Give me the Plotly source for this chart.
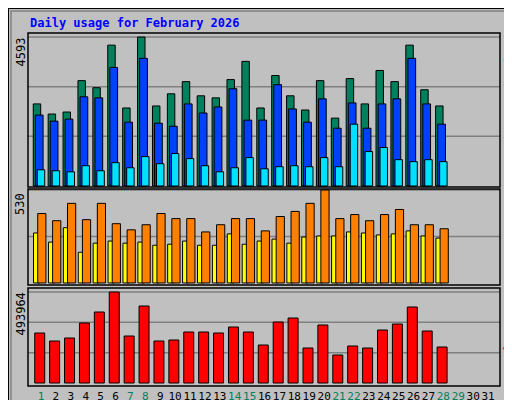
import plotly.graph_objects as go

days = list(range(1, 32))
d28 = list(range(1, 29))
hits_px = [95,105,103,72,79,37,99,29,97,85,73,87,89,71,53,99,67,87,101,72,109,70,95,62,73,37,81,97]
files_px = [106,112,110,88,89,59,113,50,114,117,95,104,98,80,111,111,76,100,113,90,119,94,119,95,90,50,95,115]
pages_px = [160,161,162,156,161,153,158,147,154,144,149,156,162,158,148,159,157,156,157,148,157,115,142,138,150,152,150,152]
visits_px = [207,214,197,213,197,217,223,218,207,212,212,225,218,212,212,224,210,205,197,184,212,208,214,208,203,218,218,222]
sites_px = [226,235,221,245,236,234,236,235,238,237,234,238,238,227,237,234,232,236,230,229,229,225,226,228,227,224,229,231]
kb_px = [325,333,330,315,304,284,328,298,333,332,324,324,325,319,324,337,314,310,340,317,347,338,340,322,316,299,323,339]

HMAX, VMAX, KMAX = 4593, 530, 493964
hits = [round((176 - p) / 147 * HMAX) for p in hits_px]
files = [round((176 - p) / 147 * HMAX) for p in files_px]
pages = [round((176 - p) / 147 * HMAX) for p in pages_px]
visits = [round((275 - p) / 91 * VMAX) for p in visits_px]
sites = [round((275 - p) / 91 * VMAX) for p in sites_px]
kbytes = [round((375 - p) / 91 * KMAX) for p in kb_px]
weekend = {1, 7, 8, 14, 15, 21, 22, 28, 29}

W, H = 512, 400
def py(p):
    return 1 - p / H

fig = go.Figure()
line = dict(color="black", width=1)
def bar(x, y, color, off, w, yaxis):
    fig.add_trace(go.Bar(x=x, y=y, marker=dict(color=color, line=line), offset=off,
                         width=w, yaxis=yaxis, showlegend=False, hoverinfo="skip"))

bar(d28, hits, "#00805c", -0.52, 0.5, "y")
bar(d28, files, "#0040ff", -0.38, 0.52, "y")
bar(d28, pages, "#00e0ff", -0.25, 0.5, "y")
bar(d28, sites, "#ffff00", -0.5, 0.42, "y2")
bar(d28, visits, "#ff8000", -0.22, 0.55, "y2")
bar(d28, kbytes, "#ff0000", -0.42, 0.67, "y3")

font = "DejaVu Sans Mono"
ticktext = [f'<span style="color:{"#00805c" if d in weekend else "black"}">{d}</span>' for d in days]
x0p, x1p = 20 / W, 492 / W
xr = [0.128, 31.8]
noax = dict(showticklabels=False, showgrid=False, zeroline=False, automargin=False, fixedrange=True)
fig.update_layout(
    width=W, height=H, margin=dict(l=0, r=0, t=0, b=0, autoexpand=False),
    paper_bgcolor="#c0c0c0", plot_bgcolor="#c0c0c0", barmode="overlay",
    font=dict(family=font, size=11, color="black"),
    xaxis=dict(domain=[x0p, x1p], range=xr, tickvals=days, ticktext=ticktext, tickangle=0,
               showgrid=False, zeroline=False, ticks="", anchor="y3", automargin=False,
               ticklabelstandoff=2, tickfont=dict(size=11)),
    yaxis=dict(domain=[py(179), py(25)], range=[-31.2, HMAX + 4 * 31.2], **noax),
    yaxis2=dict(domain=[py(277), py(181)], range=[-2 * 5.82, VMAX + 1 * 5.82], **noax),
    yaxis3=dict(domain=[py(378), py(280)], range=[-3 * 5428, KMAX + 4 * 5428], **noax),
)

shapes = []
for yref, vals in (("y", [HMAX / 3, 2 * HMAX / 3, HMAX]), ("y2", [VMAX / 2, VMAX]),
                   ("y3", [KMAX / 3, 2 * KMAX / 3, KMAX])):
    for v in vals:
        shapes.append(dict(type="line", xref="paper", yref=yref, x0=x0p, x1=x1p, y0=v, y1=v,
                           line=dict(color="#808080", width=1.5), layer="below"))
for top, bot in ((25, 179), (181, 277), (280, 378)):
    shapes.append(dict(type="rect", xref="paper", yref="paper", x0=x0p, x1=x1p, y0=py(bot), y1=py(top),
                       line=dict(color="black", width=1.5)))
shapes.append(dict(type="rect", xref="paper", yref="paper", x0=0, x1=1, y0=0, y1=1,
                   line=dict(color="black", width=2)))
shapes.append(dict(type="rect", xref="paper", yref="paper", x0=3 / W, x1=1 - 5 / W, y0=5 / H, y1=1 - 3 / H,
                   line=dict(color="#808080", width=1.5)))
fig.update_layout(shapes=shapes)

ann = [dict(x=20 / W, y=py(15), xref="paper", yref="paper", xanchor="left", yanchor="middle",
            text="<b>Daily usage for February 2026</b>", showarrow=False,
            font=dict(family=font, size=12, color="#0000ff"))]
for text, top in ((str(HMAX), 28), (str(VMAX), 183), (str(KMAX), 283)):
    ann.append(dict(x=12 / W, y=py(top), xref="paper", yref="paper", xanchor="center", yanchor="top",
                    text=text, textangle=-90, showarrow=False, font=dict(family=font, size=12)))
right = [
    ('<span style="color:#00e0ff">Pages</span> / <span style="color:#0040ff">Files</span> / <span style="color:#00805c">Hits</span>', 102),
    ('<span style="color:#ff8000">Sites</span> / <span style="color:#ffff00">Visits</span>', 229),
    ('<span style="color:#ff0000">KBytes</span>', 345),
]
for text, yc in right:
    ann.append(dict(x=501 / W, y=py(yc), xref="paper", yref="paper", xanchor="center", yanchor="middle",
                    textangle=90, showarrow=False, font=dict(family=font, size=11), text=text))
fig.update_layout(annotations=ann)
fig.write_html("out.html")
